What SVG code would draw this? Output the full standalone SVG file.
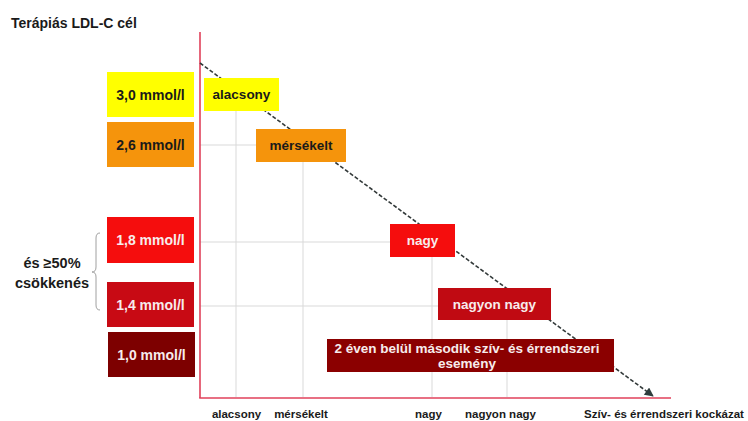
<svg xmlns="http://www.w3.org/2000/svg" width="748" height="421" viewBox="0 0 748 421">
<defs>
<style>
text{font-family:"Liberation Sans",Arial,sans-serif;font-weight:bold;}
.lbl{font-size:14px;text-anchor:middle;}
.nlbl{font-size:13.5px;text-anchor:middle;}
.ax{font-size:11.5px;fill:#1a1a1a;text-anchor:middle;}
.dark{fill:#1a1a1a;}
.light{fill:#f7ecec;}
.grid{stroke:#d9d9d9;stroke-width:1;fill:none;}
.axis{stroke:#e0405a;stroke-width:1.6;fill:none;}
</style>
<marker id="arr" viewBox="0 0 10 10" refX="9" refY="5" markerWidth="10" markerHeight="9" orient="auto" markerUnits="userSpaceOnUse">
<path d="M0,0 L10,5 L0,10 z" fill="#2f3d3d"/>
</marker>
</defs>
<rect width="748" height="421" fill="#ffffff"/>
<text x="11" y="28" style="font-size:14px" class="dark">Terápiás LDL-C cél</text>
<g id="grid">
<line class="grid" x1="236" y1="95" x2="236" y2="397"/>
<line class="grid" x1="303" y1="145" x2="303" y2="397"/>
<line class="grid" x1="432" y1="240" x2="432" y2="397"/>
<line class="grid" x1="507" y1="304" x2="507" y2="397"/>
<line class="grid" x1="200" y1="145" x2="300" y2="145"/>
<line class="grid" x1="200" y1="242" x2="420" y2="242"/>
<line class="grid" x1="200" y1="306" x2="490" y2="306"/>
</g>
<g id="axes">
<line class="axis" x1="200" y1="32" x2="200" y2="398"/>
<line class="axis" x1="199.2" y1="398" x2="671" y2="398"/>
</g>
<g id="connectors">
<line x1="200" y1="63" x2="653" y2="396" stroke="#333a3a" stroke-width="1.6" stroke-dasharray="4 2" marker-end="url(#arr)"/>
</g>
<g id="target-30">
<rect x="107" y="72" width="87" height="45" fill="#ffff00"/>
<text class="lbl dark" x="150.5" y="99.5">3,0 mmol/l</text>
</g>
<g id="target-26">
<rect x="107" y="122" width="87" height="45" fill="#f5940c"/>
<text class="lbl dark" x="150.5" y="149.5">2,6 mmol/l</text>
</g>
<g id="target-18">
<rect x="107" y="217" width="87" height="46" fill="#f50d0d"/>
<text class="lbl light" x="150.5" y="245">1,8 mmol/l</text>
</g>
<g id="target-14">
<rect x="107" y="282" width="87" height="45" fill="#c80a14"/>
<text class="lbl light" x="150.5" y="310">1,4 mmol/l</text>
</g>
<g id="target-10">
<rect x="108" y="332" width="87" height="45" fill="#7d0000"/>
<text class="lbl light" x="151.5" y="359.5">1,0 mmol/l</text>
</g>
<g id="brace">
<path d="M100,233 Q96,233 96,238 L96,267 Q96,272 92,272 Q96,272 96,277 L96,305 Q96,310 100,310" fill="none" stroke="#a0a0a0" stroke-width="1"/>
<text x="52" y="268" style="font-size:14.5px;text-anchor:middle" class="dark">és ≥50%</text>
<text x="52" y="288" style="font-size:14.5px;text-anchor:middle" class="dark">csökkenés</text>
</g>
<g id="risk-alacsony">
<rect x="204" y="78" width="75" height="33" fill="#ffff00"/>
<text class="nlbl dark" x="241.5" y="99">alacsony</text>
</g>
<g id="risk-mersekelt">
<rect x="256" y="129" width="90" height="33" fill="#f5940c"/>
<text class="nlbl dark" x="301" y="150">mérsékelt</text>
</g>
<g id="risk-nagy">
<rect x="390" y="224" width="65" height="33" fill="#f50d0d"/>
<text class="nlbl light" x="422.5" y="245">nagy</text>
</g>
<g id="risk-nagyon-nagy">
<rect x="438" y="288" width="113" height="32" fill="#c00a12"/>
<text class="nlbl light" x="494.5" y="309">nagyon nagy</text>
</g>
<g id="risk-masodik">
<rect x="327" y="339" width="287" height="33" fill="#8b0000"/>
<text class="nlbl light" x="467" y="353">2 éven belül második szív- és érrendszeri</text>
<text class="nlbl light" x="467" y="368">esemény</text>
</g>
<g id="x-labels">
<text class="ax" x="236.5" y="418">alacsony</text>
<text class="ax" x="301" y="418">mérsékelt</text>
<text class="ax" x="428.5" y="418">nagy</text>
<text class="ax" x="500.5" y="418">nagyon nagy</text>
<text class="ax" x="664" y="418">Szív- és érrendszeri kockázat</text>
</g>
</svg>
